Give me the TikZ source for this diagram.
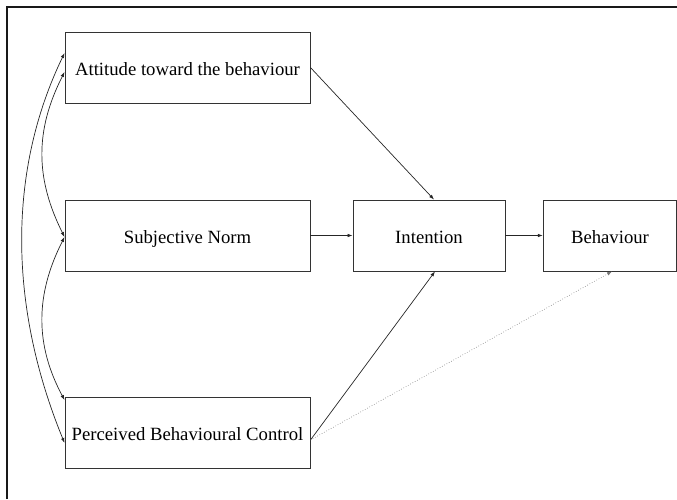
\documentclass[tikz,border=0pt]{standalone}
\usepackage{fontspec}
\setmainfont{Liberation Serif}
\newfontfamily\labelfont{Liberation Serif}
\usetikzlibrary{arrows.meta,calc}
\begin{document}
\begin{tikzpicture}[x=1pt,y=-1pt,
  box/.style={draw=black!80,line width=0.9pt,minimum height=71pt,inner sep=0pt,
    text height=15pt,text depth=0pt,
    font=\labelfont\fontsize{18.7}{22}\selectfont,text=black},
  link/.style={draw=black!85,line width=0.7pt,-{Latex[length=5pt,width=3.6pt]}},
  both/.style={draw=black!85,line width=0.7pt,{Latex[length=5pt,width=3.6pt]}-{Latex[length=5pt,width=3.6pt]}},
  weak/.style={draw=black!55,line width=0.6pt,dotted,-{Latex[length=5pt,width=3.6pt]}}]
\useasboundingbox (0,0) rectangle (677,499);
% outer frame (left and top edges)
\draw[line width=1.3pt,black!90] (7,499) -- (7,7) -- (677,7);

\node[box,minimum width=245pt] (att) at (187.5,67.5) {Attitude toward the behaviour};
\node[box,minimum width=245pt] (sn)  at (187.5,235.5) {Subjective Norm};
\node[box,minimum width=245pt] (pbc) at (187.5,432.5) {Perceived Behavioural Control};
\node[box,minimum width=152pt] (int) at (429,235.5) {Intention};
\node[box,minimum width=133.5pt] (beh) at (610,235.5) {Behaviour};

% direct paths
\draw[link] (att.east) -- ([xshift=5pt]int.north);
\draw[link] (sn.east) -- (int.west);
\draw[link] (int.east) -- (beh.west);
\draw[link] ([yshift=-7.5pt]pbc.east) -- ([xshift=6pt]int.south);
\draw[weak] ([yshift=-7.5pt]pbc.east) -- ([xshift=2pt]beh.south);

% correlations among the antecedents
\draw[both] ([yshift=-4.5pt]att.west) .. controls (35,130) and (35,178) .. ([yshift=-1.5pt]sn.west);
\draw[both] ([yshift=-1.5pt]sn.west) .. controls (35,295) and (35,345) .. ([yshift=32.5pt]pbc.west);
\draw[both] ([yshift=14.5pt]att.west) .. controls (8,170) and (8,305) .. ([yshift=-10.5pt]pbc.west);
\end{tikzpicture}
\end{document}
